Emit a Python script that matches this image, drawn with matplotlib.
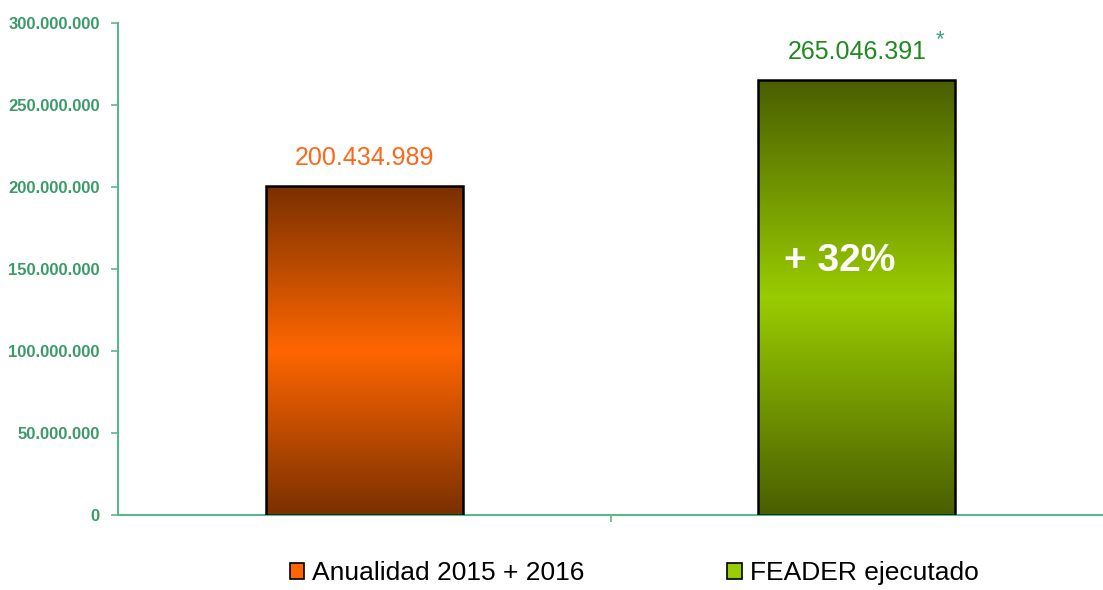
import numpy as np
import matplotlib.pyplot as plt
from matplotlib.colors import LinearSegmentedColormap
from matplotlib.patches import Patch
from matplotlib.ticker import FuncFormatter

categorias = ['Anualidad 2015 + 2016', 'FEADER ejecutado']
valores = [200434989, 265046391]
etiquetas = ['200.434.989', '265.046.391']
colores_oscuros = ['#7a3000', '#4a5e00']
colores_claros = ['#ff6600', '#99cc00']
colores_texto = ['#ff6619', '#1f8a1f']
verde_eje = '#5cb88a'
verde_ticks = '#3a9a68'

fig = plt.figure(figsize=(11.03, 5.90), dpi=100)
ax = fig.add_axes([0.107, 0.127, 0.893, 0.834])

ancho = 0.40
x = np.arange(len(valores))
for i, v in enumerate(valores):
    # degradado vertical: oscuro arriba y abajo, claro en el centro
    cmap = LinearSegmentedColormap.from_list('g', [colores_oscuros[i], colores_claros[i], colores_oscuros[i]])
    grad = np.linspace(0, 1, 256).reshape(-1, 1)
    ax.imshow(grad, cmap=cmap, aspect='auto', origin='lower',
              extent=(x[i] - ancho / 2, x[i] + ancho / 2, 0, v), zorder=2)
ax.bar(x, valores, width=ancho, facecolor='none', edgecolor='black', linewidth=1.8, zorder=3)

for i, v in enumerate(valores):
    ax.text(x[i], v + 10e6, etiquetas[i], ha='center', va='bottom', fontsize=18,
            color=colores_texto[i], family='Liberation Sans')

ax.text(x[1] - 0.035, 155e6, '+ 32%', ha='center', va='center', fontsize=28,
        color='white', fontweight='bold', family='Liberation Sans')
ax.text(x[1] + 0.17, 290e6, '*', ha='center', va='center', fontsize=16,
        color='#3aa080', family='Liberation Sans')

ax.set_xlim(-0.5, 1.5)
ax.set_ylim(0, 300e6)
ax.set_yticks(np.arange(0, 300e6 + 1, 50e6))
ax.yaxis.set_major_formatter(FuncFormatter(lambda v, p: f'{int(v):,}'.replace(',', '.')))
ax.set_xticks([0.5])
ax.set_xticklabels([])

for s in ['top', 'right']:
    ax.spines[s].set_visible(False)
for s in ['left', 'bottom']:
    ax.spines[s].set_color(verde_eje)
    ax.spines[s].set_linewidth(1.5)
ax.tick_params(axis='y', colors=verde_eje, length=5, width=1.2, labelcolor=verde_ticks,
               labelsize=12, pad=8)
ax.tick_params(axis='x', colors=verde_eje, length=5, width=1.2)
for lbl in ax.get_yticklabels():
    lbl.set_fontweight('bold')
    lbl.set_family('Liberation Sans')

handles = [Patch(facecolor=colores_claros[i], edgecolor='black', linewidth=1.2) for i in range(2)]
fig.legend(handles, categorias, loc='center', bbox_to_anchor=(0.575, 0.028), ncol=2,
           frameon=False, prop={'family': ['Liberation Sans Narrow', 'Liberation Sans'], 'size': 19},
           handlelength=0.55, handleheight=0.55, handletextpad=0.3, columnspacing=5.4)

fig.savefig('out.png', dpi=100)
